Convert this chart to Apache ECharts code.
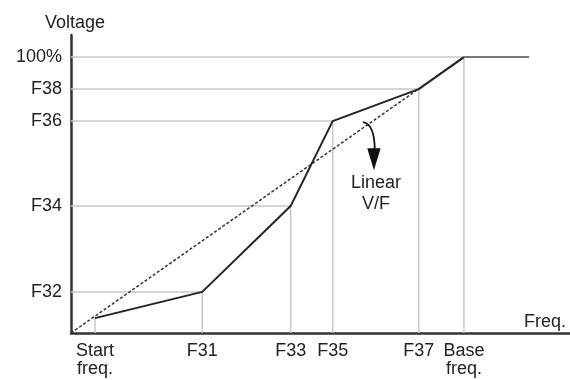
<!DOCTYPE html>
<html>
<head>
<meta charset="utf-8">
<script src="https://cdn.jsdelivr.net/npm/echarts@6/dist/echarts.min.js"></script>
<style>
  html, body { margin: 0; padding: 0; background: #fff; }
  #chart { width: 570px; height: 380px; }
</style>
</head>
<body>
<div id="chart"></div>
<script>
// frequency in % of base freq, voltage in % of rated voltage
const freqNames = ['Start\nfreq.', 'F31', 'F33', 'F35', 'F37', 'Base\nfreq.'];
const freqPoints = [6.1, 33.4, 55.9, 66.6, 88.5, 100];
const voltNames = ['', 'F32', 'F34', 'F36', 'F38', '100%'];
const voltPoints = [5.4, 14.9, 46, 76.8, 88.4, 100];
const plateauEnd = 116.6;
const linearVF = [[0, 0], [100, 100]];

const font = "'Liberation Sans', Arial, sans-serif";
const fs = 18;
const txt = '#222';

const chart = echarts.init(document.getElementById('chart'));

// curve: start point -> corner points -> base
const curve = freqPoints.map((f, i) => [f, voltPoints[i]]);

// guide lines: horizontal from axis to the point, then down to the x axis
const guides = freqPoints.map((f, i) => {
    let pts = i === 0
        ? [[f, voltPoints[i]], [f, 0]]
        : [[0, voltPoints[i]], [f, voltPoints[i]], [f, 0]];
    return {
        type: 'line', data: pts, symbol: 'none', silent: true, z: 1,
        lineStyle: { color: '#c8c8c8', width: 1.5 }
    };
});

chart.setOption({
    animation: false,
    grid: { left: 71, right: 0, top: 35, bottom: 47 },
    xAxis: {
        type: 'value', min: 0, max: 127,
        name: 'Freq.',
        nameLocation: 'end',
        nameGap: -4,
        nameTextStyle: { align: 'right', verticalAlign: 'bottom', padding: [0, 0, 2, 0],
            fontFamily: font, fontSize: fs, color: txt },
        splitLine: { show: false },
        axisTick: { show: false },
        axisLine: { lineStyle: { color: '#333', width: 2.5 } },
        axisLabel: {
            customValues: freqPoints,
            formatter: v => freqNames[freqPoints.indexOf(v)] || '',
            fontFamily: font, fontSize: fs, color: txt, lineHeight: 18, margin: 9
        }
    },
    yAxis: {
        type: 'value', min: 0, max: 108,
        name: 'Voltage',
        nameLocation: 'end',
        nameGap: 3,
        nameTextStyle: { fontFamily: font, fontSize: fs, color: txt, padding: [0, 0, 0, 8] },
        splitLine: { show: false },
        axisTick: { show: false },
        axisLine: { lineStyle: { color: '#333', width: 2.5 } },
        axisLabel: {
            customValues: voltPoints.slice(1),
            formatter: v => voltNames[voltPoints.indexOf(v)] || '',
            fontFamily: font, fontSize: fs, color: txt, margin: 9
        }
    },
    series: guides.concat([
        {
            type: 'line', data: linearVF, symbol: 'none', z: 3,
            lineStyle: { color: '#333', width: 1.5, type: [3, 2] },
            markPoint: {
                symbol: 'circle', symbolSize: 1,
                itemStyle: { color: 'rgba(0,0,0,0)' },
                label: {
                    show: true, position: 'inside', formatter: 'Linear\nV/F',
                    fontFamily: font, fontSize: fs, color: txt, lineHeight: 21
                },
                data: [{ coord: [77.6, 50.7] }]
            }
        },
        {
            type: 'line', data: curve, symbol: 'none', z: 4,
            lineStyle: { color: '#222', width: 2 }
        },
        {
            type: 'line', data: [[100, 100], [plateauEnd, 100]], symbol: 'none', z: 4,
            lineStyle: { color: '#777', width: 2 }
        }
    ])
});

// curved arrow pointing from the linear V/F line to its label
const px = p => chart.convertToPixel({ gridIndex: 0 }, p);
const a0 = px([74.3, 76.4]), ac = px([77.3, 75.7]), a1 = px([77.3, 66.3]);
const hl = px([75.4, 67]), hr = px([78.8, 67]), tip = px([77.1, 59]);
chart.setOption({
    graphic: [
        {
            type: 'bezierCurve', z: 10,
            shape: { x1: a0[0], y1: a0[1], cpx1: ac[0], cpy1: ac[1], x2: a1[0], y2: a1[1] },
            style: { stroke: '#111', lineWidth: 1.8, fill: null }
        },
        {
            type: 'polygon', z: 10,
            shape: { points: [hl, hr, tip] },
            style: { fill: '#111' }
        }
    ]
});
</script>
</body>
</html>
